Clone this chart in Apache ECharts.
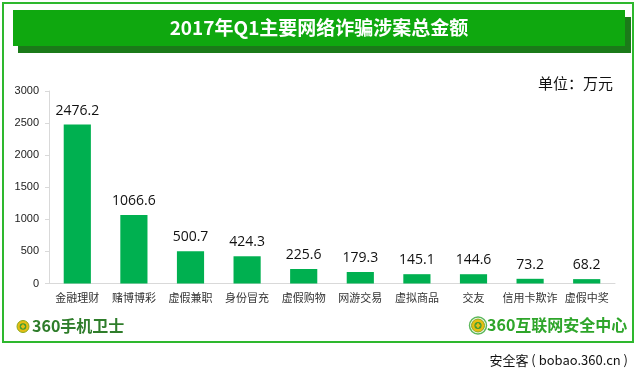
<!DOCTYPE html>
<html>
<head>
<meta charset="utf-8">
<script src="https://cdn.jsdelivr.net/npm/echarts@6/dist/echarts.min.js"></script>
<style>
html,body{margin:0;padding:0;background:#fff;}
#main{width:637px;height:370px;}
</style>
</head>
<body>
<div id="main"></div>
<script>
var titleText = '2017年Q1主要网络诈骗涉案总金额';
var unitText = '单位：万元';
var categories = ['金融理财','赌博博彩','虚假兼职','身份冒充','虚假购物','网游交易','虚拟商品','交友','信用卡欺诈','虚假中奖'];
var values = [2476.2,1066.6,500.7,424.3,225.6,179.3,145.1,144.6,73.2,68.2];
var yMin = 0, yMax = 3000, yStep = 500;
var leftBrand = '360手机卫士';
var rightBrand = '360互联网安全中心';
var watermark = '安全客 ( bobao.360.cn )';

var FONT = '"Noto Sans CJK SC", "Noto Sans", sans-serif';
var chart = echarts.init(document.getElementById('main'), null, {renderer: 'canvas'});

function logo(cx, cy, r, ring) {
  var els = [];
  if (ring) {
    els.push({type:'circle', shape:{cx:cx, cy:cy, r:r+2}, style:{fill:'#fff', stroke:'#5cb85c', lineWidth:1.5}, z:5});
  }
  els.push({type:'circle', shape:{cx:cx, cy:cy, r:r}, style:{fill:'#e6be12', stroke:'#8aa81c', lineWidth:1}, z:6});
  els.push({type:'circle', shape:{cx:cx, cy:cy, r:r*0.55}, style:{fill:'#3d9b35'}, z:7});
  els.push({type:'rect', shape:{x:cx-r*0.35, y:cy-1, width:r*0.7, height:2}, style:{fill:'#e6be12'}, z:8});
  els.push({type:'rect', shape:{x:cx-1, y:cy-r*0.35, width:2, height:r*0.7}, style:{fill:'#e6be12'}, z:8});
  return els;
}

var graphics = [
  {type:'rect', shape:{x:3, y:3, width:630, height:339}, style:{fill:'none', stroke:'#2eb82e', lineWidth:2}, z:1},
  {type:'rect', shape:{x:18, y:17, width:613, height:36}, style:{fill:'#1b7a19'}, z:2},
  {type:'rect', shape:{x:13, y:10, width:612, height:36}, style:{fill:'#0fa80f'}, z:3},
  {type:'text', x:319, y:28, style:{text:titleText, fill:'#ffffff', font:'bold 19px ' + FONT, textAlign:'center', textVerticalAlign:'middle'}, z:4},
  {type:'text', x:613, y:83, style:{text:unitText, fill:'#111', font:'15px ' + FONT, textAlign:'right', textVerticalAlign:'middle'}, z:4},
  {type:'text', x:32, y:326, style:{text:leftBrand, fill:'#2f7d2b', font:'bold 16px ' + FONT, textAlign:'left', textVerticalAlign:'middle'}, z:4},
  {type:'text', x:487, y:325, style:{text:rightBrand, fill:'#2ea52a', font:'bold 16px ' + FONT, textAlign:'left', textVerticalAlign:'middle'}, z:4},
  {type:'text', x:628, y:360, style:{text:watermark, fill:'#111', font:'13px ' + FONT, textAlign:'right', textVerticalAlign:'middle'}, z:4}
].concat(logo(23, 326.5, 6, false)).concat(logo(478, 325.5, 6.5, true));

chart.setOption({
  animation: false,
  textStyle: {fontFamily: FONT},
  grid: {left: 49, right: 22, top: 91, bottom: 86.5, containLabel: false},
  xAxis: {
    type: 'category',
    data: categories,
    axisLine: {show: true, lineStyle: {color: '#d9d9d9', width: 1}},
    axisTick: {show: false},
    axisLabel: {color: '#333', fontSize: 11, margin: 9, interval: 0, fontFamily: FONT}
  },
  yAxis: {
    type: 'value',
    min: yMin, max: yMax, interval: yStep,
    axisLine: {show: true, lineStyle: {color: '#d9d9d9', width: 1}},
    axisTick: {show: true, length: 4, lineStyle: {color: '#d9d9d9'}},
    splitLine: {show: false},
    axisLabel: {color: '#222', fontSize: 11, margin: 10, fontFamily: 'Arial, "Liberation Sans", sans-serif',
      formatter: function (v) { return String(v); }}
  },
  series: [{
    type: 'bar',
    data: values,
    barWidth: '48%',
    itemStyle: {color: '#00b050'},
    label: {show: true, position: 'top', distance: 7, color: '#111', fontSize: 14, fontFamily: '"Open Sans", "Noto Sans", sans-serif'}
  }],
  graphic: graphics
});
</script>
</body>
</html>
